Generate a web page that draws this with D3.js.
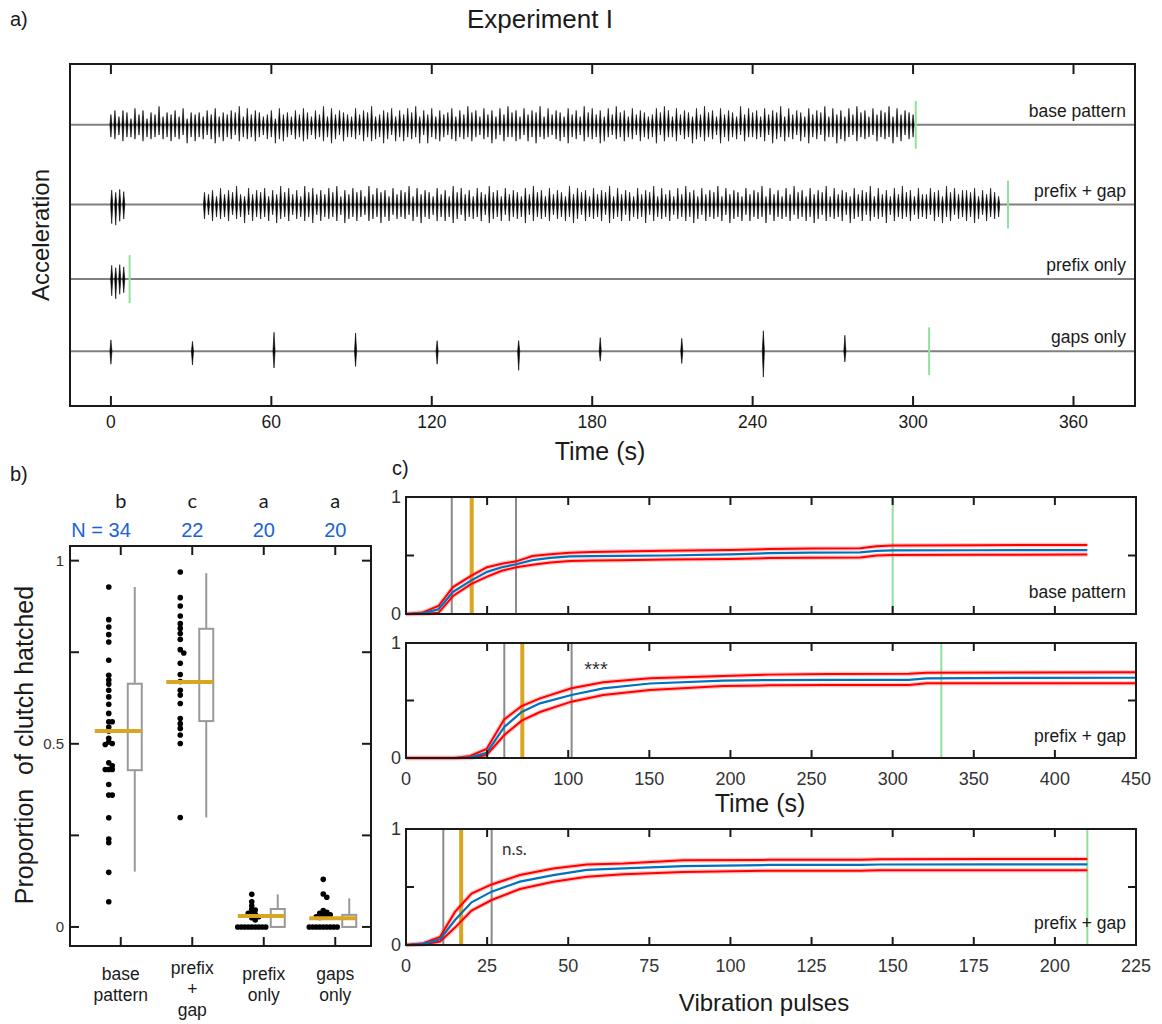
<!DOCTYPE html>
<html><head><meta charset="utf-8">
<script src="https://cdn.jsdelivr.net/npm/d3@7/dist/d3.min.js"></script>
<style>
body{margin:0;background:#fff;}
svg{display:block;}
</style></head>
<body>
<svg id="fig" width="1162" height="1024"></svg>
<script>
// ======================= DATA =======================
// ---- Panel a : stimulus waveforms
const timeTicksA = [0, 60, 120, 180, 240, 300, 360];
const traceNames = ["base pattern", "prefix + gap", "prefix only", "gaps only"];
const traceLevels = [3.70, 2.65, 1.67, 0.72];
const stimulusEnd = [301, 335.5, 7, 306];
const pulsePeriod = 1.5;
const baseStart = 0;
// one digit per pulse (relative amplitude above / below baseline)
const baseUp   = "5747638573 6594657483 6564758465 7694857645 7385647586 4759485765 4857694576 8475869475 8475684759 6748574859 6748576948 5764857496 8574859674 8576458697 4857648596 7485764958 6748576948 5764857694 8574859674 8576948576 5";
const baseDown = "6758667586 7657686759 6867579686 7586768657 6978657687 5768697586 6758687697 5868676959 6786578676 8657697586 6875869676 5786967586 7698657686 7586769586 6857697686 7596867586 6768597686 7586967586 6978658676 5867696857 6";
const prefixTimes = [0.3, 1.8, 3.3, 4.8];
const prefixGapUp = [0.19, 0.16, 0.20, 0.17];
const prefixGapDown = [0.25, 0.27, 0.22, 0.19];
const prefixOnlyUp = [0.18, 0.15, 0.19, 0.16];
const prefixOnlyDown = [0.22, 0.26, 0.20, 0.18];
const mainStart = 35;
const mainUp   = "6574857695 4857684759 6857496857 5869475867 4958674857 6948576485 7496857486 5967485764 8596748576 4958674857 6948576485 7694857485 9674857694 8576485769 4857485967 4857694857 6485769485 7485967485 5867496857 768475864";
const mainDown = "7586768576 9586768597 6857686958 6768597686 5876968576 7586967586 8697586768 5976858676 9586768576 8697586768 5976858676 9586768576 8697586768 5976858676 9586768576 8697586768 5976858676 9586768576 7586968576 869758676";
const gapsTimes = [0, 30.5, 61, 91.5, 122, 152.5, 183, 213.5, 244, 274.5];
const gapsUp   = [0.15, 0.13, 0.25, 0.24, 0.14, 0.14, 0.18, 0.17, 0.27, 0.21];
const gapsDown = [0.17, 0.18, 0.22, 0.20, 0.17, 0.25, 0.13, 0.16, 0.34, 0.14];

// ---- Panel b : proportion of clutch hatched
const categoriesB = [["base","pattern"], ["prefix","+","gap"], ["prefix","only"], ["gaps","only"]];
const groupLetters = ["b", "c", "a", "a"];
const groupN = ["N = 34", "22", "20", "20"];
const baseVals = [0.928,0.839,0.819,0.798,0.778,0.728,0.687,0.674,0.663,0.646,0.628,0.608,0.583,0.560,0.560,0.546,0.535,0.515,0.505,0.501,0.498,0.448,0.440,0.430,0.430,0.430,0.389,0.360,0.360,0.298,0.240,0.230,0.149,0.069];
const prefixGapVals = [0.969,0.899,0.876,0.849,0.828,0.815,0.801,0.785,0.757,0.748,0.720,0.689,0.670,0.646,0.633,0.610,0.569,0.555,0.542,0.524,0.501,0.299];
const prefixOnlyVals = [0.089,0.069,0.058,0.048,0.046,0.037,0.037,0.034,0.028,0.025,0.019,0,0,0,0,0,0,0,0,0];
const gapsOnlyVals = [0.130,0.090,0.081,0.045,0.040,0.037,0.035,0.033,0.030,0.028,0.026,0,0,0,0,0,0,0,0,0];
const boxQ1 = [0.428, 0.562, 0, 0];
const boxQ3 = [0.664, 0.814, 0.049, 0.033];
const whiskLo = [0.151, 0.299, 0, 0];
const whiskHi = [0.928, 0.966, 0.089, 0.078];
const groupMeans = [0.535, 0.669, 0.030, 0.024];
const yTicksB = [0, 0.25, 0.5, 0.75, 1];

// ---- Panel c : cumulative hatching curves
const c1Time  = [0, 10, 20, 29, 40, 50, 59, 68, 78, 89, 101, 115, 132, 160, 200, 224, 250, 280, 290, 300, 350, 420];
const c1Mean  = [0, 0.005, 0.04, 0.19, 0.285, 0.36, 0.40, 0.425, 0.46, 0.48, 0.493, 0.495, 0.497, 0.50, 0.51, 0.52, 0.525, 0.527, 0.54, 0.543, 0.545, 0.546];
const c1Upper = [0, 0.012, 0.068, 0.23, 0.325, 0.40, 0.43, 0.45, 0.495, 0.51, 0.524, 0.53, 0.535, 0.54, 0.548, 0.555, 0.56, 0.562, 0.58, 0.585, 0.588, 0.59];
const c1Lower = [0, 0, 0.01, 0.154, 0.256, 0.32, 0.37, 0.40, 0.42, 0.44, 0.453, 0.458, 0.46, 0.465, 0.47, 0.478, 0.48, 0.482, 0.50, 0.505, 0.507, 0.508];
const c2Time  = [0, 30, 39.5, 49.7, 60.6, 71.3, 82.6, 102, 121.6, 150.4, 195.6, 224, 260, 310, 321, 380, 450];
const c2Mean  = [0, 0, 0.003, 0.045, 0.27, 0.40, 0.475, 0.548, 0.605, 0.648, 0.672, 0.678, 0.68, 0.68, 0.693, 0.697, 0.698];
const c2Upper = [0, 0, 0.017, 0.078, 0.336, 0.452, 0.519, 0.606, 0.658, 0.693, 0.713, 0.725, 0.73, 0.732, 0.742, 0.744, 0.745];
const c2Lower = [0, 0, 0, 0.026, 0.20, 0.325, 0.40, 0.49, 0.548, 0.591, 0.626, 0.632, 0.635, 0.635, 0.649, 0.65, 0.65];
const c3Pulse = [0, 5.3, 10.5, 15.1, 20.2, 26.4, 35.1, 45.4, 55.7, 67, 85.5, 112, 140, 146, 180, 210];
const c3Mean  = [0, 0.01, 0.05, 0.215, 0.368, 0.46, 0.546, 0.603, 0.647, 0.66, 0.68, 0.69, 0.69, 0.694, 0.695, 0.695];
const c3Upper = [0, 0.015, 0.07, 0.285, 0.444, 0.522, 0.603, 0.66, 0.694, 0.703, 0.73, 0.734, 0.734, 0.74, 0.741, 0.741];
const c3Lower = [0, 0.005, 0.03, 0.15, 0.297, 0.388, 0.483, 0.546, 0.589, 0.61, 0.63, 0.64, 0.64, 0.644, 0.645, 0.645];
const cGray   = [[28.2, 67.8], [60.6, 102.1], [11.5, 26.4]];
const cOrange = [40.5, 71.7, 17];
const cGreen  = [300, 330, 210];
const cLabels = ["base pattern", "prefix + gap", "prefix + gap"];
const cSig    = [null, "***", "n.s."];
const cTimeTicks  = [0, 50, 100, 150, 200, 250, 300, 350, 400, 450];
const cPulseTicks = [0, 25, 50, 75, 100, 125, 150, 175, 200, 225];

// ======================= DRAWING =======================
const FONT = '"Liberation Sans", Arial, Helvetica, sans-serif';
const FONT2 = 'Lato, "Open Sans", sans-serif';
const INK = "#1a1a1a";
const GOLD = "#DAA520", GREEN = "#90E29A", GRAY = "#8a8a8a", BLUE = "#0072BD", RED = "#ff0000";
const svg = d3.select("#fig");

function txt(g, x, y, s, size, opts = {}) {
  const t = g.append("text").attr("x", x).attr("y", y).text(s)
    .attr("font-family", opts.font || FONT).attr("font-size", size)
    .attr("fill", opts.fill || INK).attr("text-anchor", opts.anchor || "start")
    .style("white-space", "pre");
  if (opts.rotate) t.attr("transform", `rotate(${opts.rotate},${x},${y})`);
  if (opts.baseline) t.attr("dominant-baseline", opts.baseline);
  return t;
}
function frame(g, x0, y0, x1, y1) {
  g.append("rect").attr("x", x0).attr("y", y0).attr("width", x1 - x0).attr("height", y1 - y0)
    .attr("fill", "none").attr("stroke", INK).attr("stroke-width", 2);
}
function tick(g, x1, y1, x2, y2) {
  g.append("line").attr("x1", x1).attr("y1", y1).attr("x2", x2).attr("y2", y2)
    .attr("stroke", INK).attr("stroke-width", 2);
}
const digits = s => s.replace(/\s/g, "").split("").map(Number);
const AMP = 0.027; // relative units per amplitude digit

// ---------- Panel a ----------
const ga = svg.append("g");
const ax = d3.scaleLinear().domain([-15.3, 383]).range([70, 1135]);
const ay = d3.scaleLinear().domain([0, 4.5]).range([406, 64]);
txt(ga, 10, 26, "a)", 20);
txt(ga, 540, 28, "Experiment I", 26, {anchor: "middle"});
txt(ga, 40, 235, "Acceleration", 24, {anchor: "middle", rotate: -90, baseline: "central"});

function trainFromDigits(start, upStr, downStr) {
  const u = digits(upStr), d = digits(downStr);
  return u.map((v, i) => ({t: start + i * pulsePeriod, up: v * AMP, down: (d[i] || 6) * AMP}));
}
const trains = [
  trainFromDigits(baseStart, baseUp, baseDown),
  prefixTimes.map((t, i) => ({t, up: prefixGapUp[i], down: prefixGapDown[i]}))
    .concat(trainFromDigits(mainStart, mainUp, mainDown)),
  prefixTimes.map((t, i) => ({t, up: prefixOnlyUp[i], down: prefixOnlyDown[i]})),
  gapsTimes.map((t, i) => ({t, up: gapsUp[i], down: gapsDown[i]}))
];

traceLevels.forEach((lev, k) => {
  const y0 = ay(lev);
  ga.append("line").attr("x1", 70).attr("x2", 1135).attr("y1", y0).attr("y2", y0)
    .attr("stroke", "#808080").attr("stroke-width", 2);
  ga.append("g").selectAll("path").data(trains[k]).join("path")
    .attr("d", p => {
      const x = ax(p.t), hw = 1.05;
      return `M${x},${ay(lev + p.up)} L${x + hw},${y0} L${x},${ay(lev - p.down)} L${x - hw},${y0} Z`;
    })
    .attr("fill", "#000").attr("stroke", "#000").attr("stroke-width", 0.6);
  ga.append("line").attr("x1", ax(stimulusEnd[k])).attr("x2", ax(stimulusEnd[k]))
    .attr("y1", ay(lev + 0.315)).attr("y2", ay(lev - 0.315))
    .attr("stroke", GREEN).attr("stroke-width", 2);
  txt(ga, 1126, y0 - 8, traceNames[k], 17.5, {anchor: "end"});
});
frame(ga, 70, 64, 1135, 406);
timeTicksA.forEach(t => {
  tick(ga, ax(t), 406, ax(t), 396);
  tick(ga, ax(t), 64, ax(t), 74);
  txt(ga, ax(t), 428, String(t), 17.5, {anchor: "middle"});
});
txt(ga, 600, 460, "Time (s)", 25, {anchor: "middle"});

// ---------- Panel b ----------
const gb = svg.append("g");
const bx = d3.scaleLinear().domain([0.29, 4.5]).range([70, 371]);
const by = d3.scaleLinear().domain([-0.052, 1.04]).range([946, 546]);
txt(gb, 10, 481, "b)", 20);
txt(gb, 24, 745, "Proportion  of clutch hatched", 25, {anchor: "middle", rotate: -90, baseline: "central"});
const groupVals = [baseVals, prefixGapVals, prefixOnlyVals, gapsOnlyVals];
const DOT_OFF = -12, BOX_OFF = 14, BOX_W = 14;

function swarm(vals, cx, d) {
  const placed = [];
  vals.slice().sort((a, b) => b - a).forEach(v => {
    const y = by(v);
    const cands = [0];
    for (let i = 1; i < 30; i++) cands.push(i * d, -i * d);
    let x = cx;
    for (const off of cands) {
      const xx = cx + off;
      if (placed.every(p => Math.hypot(p[0] - xx, p[1] - y) >= d)) { x = xx; break; }
    }
    placed.push([x, y]);
  });
  return placed;
}

groupVals.forEach((vals, i) => {
  const c = bx(i + 1);
  const bxc = c + BOX_OFF;
  gb.append("line").attr("x1", bxc).attr("x2", bxc).attr("y1", by(boxQ3[i])).attr("y2", by(whiskHi[i]))
    .attr("stroke", "#999").attr("stroke-width", 2);
  gb.append("line").attr("x1", bxc).attr("x2", bxc).attr("y1", by(boxQ1[i])).attr("y2", by(whiskLo[i]))
    .attr("stroke", "#999").attr("stroke-width", 2);
  gb.append("rect").attr("x", bxc - BOX_W / 2).attr("width", BOX_W)
    .attr("y", by(boxQ3[i])).attr("height", by(boxQ1[i]) - by(boxQ3[i]))
    .attr("fill", "none").attr("stroke", "#999").attr("stroke-width", 2);
  gb.append("g").selectAll("circle").data(swarm(vals, c + DOT_OFF, 3.5)).join("circle")
    .attr("cx", p => p[0]).attr("cy", p => p[1]).attr("r", 2.8).attr("fill", "#000");
  gb.append("line").attr("x1", c - 26).attr("x2", bxc + BOX_W / 2)
    .attr("y1", by(groupMeans[i])).attr("y2", by(groupMeans[i]))
    .attr("stroke", GOLD).attr("stroke-width", 4);
  tick(gb, c, 546, c, 555);
  tick(gb, c, 946, c, 937);
  txt(gb, c, 508, groupLetters[i], 20, {anchor: "middle", font: FONT2});
  if (i === 0) txt(gb, c + 10, 537, groupN[i], 20, {anchor: "end", fill: "#1a62d6"});
  else txt(gb, c, 537, groupN[i], 20, {anchor: "middle", fill: "#1a62d6"});
  const lines = categoriesB[i];
  const base = lines.length === 3 ? 974 : 980;
  lines.forEach((s, j) => txt(gb, c, base + j * 21, s, 17.5, {anchor: "middle"}));
});
frame(gb, 70, 546, 371, 946);
yTicksB.forEach(v => {
  tick(gb, 70, by(v), 79, by(v));
  tick(gb, 371, by(v), 362, by(v));
  if (v === 0 || v === 0.5 || v === 1)
    txt(gb, 64, by(v) + 5, String(v), 15, {anchor: "end", fill: "#333"});
});

// ---------- Panel c ----------
const gc = svg.append("g");
txt(gc, 392, 475, "c)", 20);
const cx = d3.scaleLinear().domain([0, 450]).range([406, 1136]);
const cxp = d3.scaleLinear().domain([0, 225]).range([406, 1136]);
const panels = [
  {y0: 497, y1: 614, xs: cx, t: c1Time, m: c1Mean, u: c1Upper, l: c1Lower, ticks: cTimeTicks, labels: false},
  {y0: 643, y1: 758, xs: cx, t: c2Time, m: c2Mean, u: c2Upper, l: c2Lower, ticks: cTimeTicks, labels: true},
  {y0: 829, y1: 945, xs: cxp, t: c3Pulse, m: c3Mean, u: c3Upper, l: c3Lower, ticks: cPulseTicks, labels: true}
];
panels.forEach((P, k) => {
  const ys = d3.scaleLinear().domain([0, 1]).range([P.y1, P.y0]);
  const g = gc.append("g");
  const vline = (v, col, w) => g.append("line").attr("x1", P.xs(v)).attr("x2", P.xs(v))
    .attr("y1", P.y0).attr("y2", P.y1).attr("stroke", col).attr("stroke-width", w);
  cGray[k].forEach(v => vline(v, GRAY, 2));
  vline(cOrange[k], GOLD, 4);
  vline(cGreen[k], GREEN, 2);
  const line = arr => d3.line().x((d, i) => P.xs(P.t[i])).y(d => ys(d))(arr);
  [P.u, P.l].forEach(arr => {
    g.append("path").attr("d", line(arr)).attr("fill", "none").attr("stroke", "rgba(255,90,90,0.35)").attr("stroke-width", 4.5);
    g.append("path").attr("d", line(arr)).attr("fill", "none").attr("stroke", RED).attr("stroke-width", 2);
  });
  g.append("path").attr("d", line(P.m)).attr("fill", "none").attr("stroke", BLUE).attr("stroke-width", 2.2);
  frame(g, 406, P.y0, 1136, P.y1);
  P.ticks.forEach(v => {
    tick(g, P.xs(v), P.y1, P.xs(v), P.y1 - 8);
    tick(g, P.xs(v), P.y0, P.xs(v), P.y0 + 8);
    if (P.labels) txt(g, P.xs(v), P.y1 + 27, String(v), 18, {anchor: "middle", fill: "#333"});
  });
  [0, 0.5, 1].forEach(v => {
    tick(g, 406, ys(v), 414, ys(v));
    tick(g, 1136, ys(v), 1128, ys(v));
  });
  txt(g, 401, ys(1) + 6, "1", 18, {anchor: "end", fill: "#333"});
  txt(g, 401, ys(0) + 6, "0", 18, {anchor: "end", fill: "#333"});
  txt(g, 1126, P.y1 - 16, cLabels[k], 17.5, {anchor: "end"});
  if (cSig[k] === "***") txt(g, 596, P.y0 + 33, "***", 20, {anchor: "middle", fill: "#333"});
  if (cSig[k] === "n.s.") txt(g, 502, P.y0 + 26, "n.s.", 17, {fill: "#333", font: FONT2});
});
txt(gc, 760, 812, "Time (s)", 25, {anchor: "middle"});
txt(gc, 764, 1011, "Vibration pulses", 24, {anchor: "middle"});
</script>
</body></html>
